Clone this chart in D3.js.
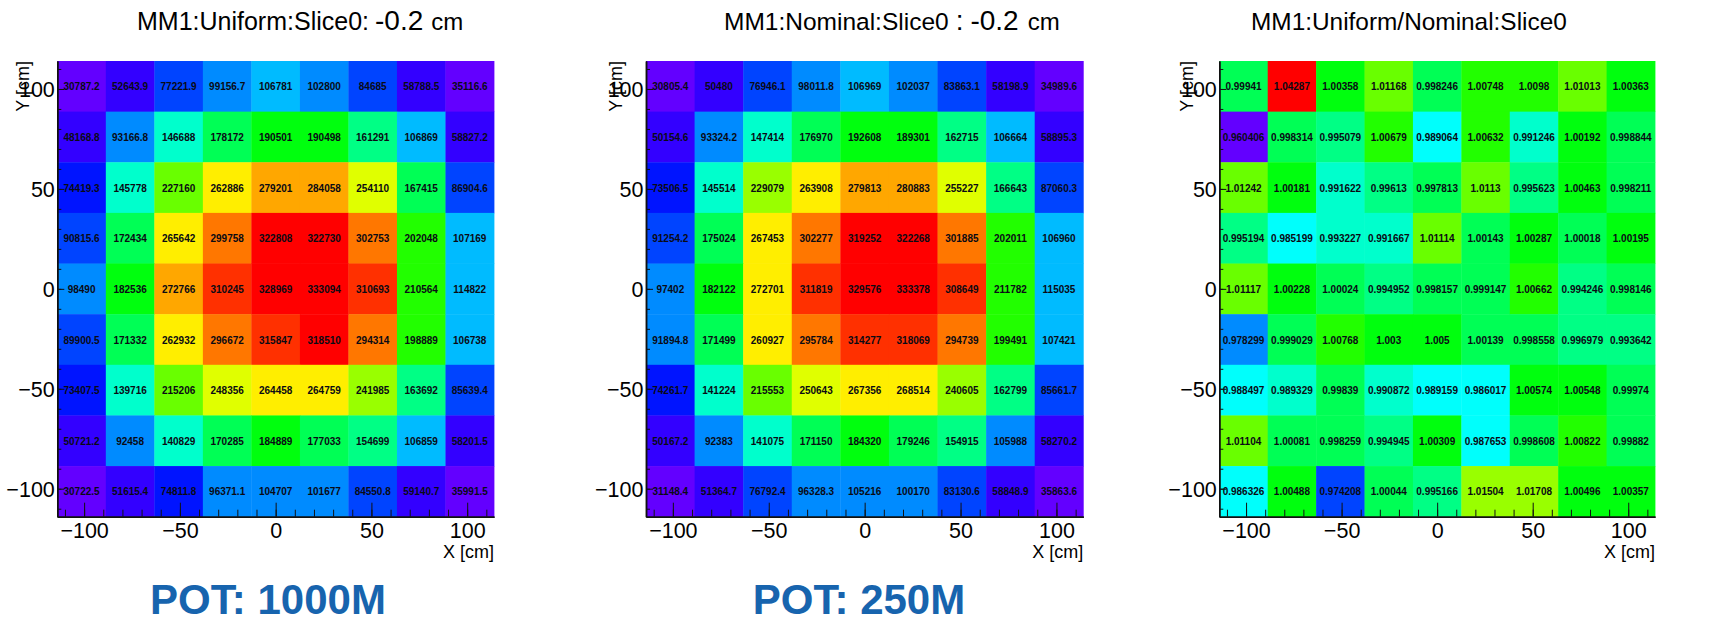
<!DOCTYPE html>
<html>
<head>
<meta charset="utf-8">
<script src="https://cdn.jsdelivr.net/npm/d3@7"></script>
<style>
  body { margin: 0; background: #fff; }
  svg { display: block; }
  text { font-family: "Liberation Sans", Arial, Helvetica, sans-serif; }
</style>
</head>
<body>
<svg id="chart" width="1713" height="624"></svg>
<script>
// 9 x 9 binning of the MM1 plane (cm), same for X and Y
const binEdges = [-114, -88.667, -63.333, -38, -12.667, 12.667, 38, 63.333, 88.667, 114];
const majorTicks = [-100, -50, 0, 50, 100];
const minorTicks = [-110, -100, -90, -80, -70, -60, -50, -40, -30, -20, -10, 0, 10, 20, 30, 40, 50, 60, 70, 80, 90, 100, 110];

// rows listed from the top (Y ≈ +100) to the bottom (Y ≈ -100), columns from X ≈ -100 to +100
const uniformCounts = [
  [30787.2, 52643.9, 77221.9, 99156.7, 106781, 102800, 84685, 58788.5, 35116.6],
  [48168.8, 93166.8, 146688, 178172, 190501, 190498, 161291, 106869, 58827.2],
  [74419.3, 145778, 227160, 262886, 279201, 284058, 254110, 167415, 86904.6],
  [90815.6, 172434, 265642, 299758, 322808, 322730, 302753, 202048, 107169],
  [98490, 182536, 272766, 310245, 328969, 333094, 310693, 210564, 114822],
  [89900.5, 171332, 262932, 296672, 315847, 318510, 294314, 198889, 106738],
  [73407.5, 139716, 215206, 248356, 264458, 264759, 241985, 163692, 85639.4],
  [50721.2, 92458, 140829, 170285, 184889, 177033, 154699, 106859, 58201.5],
  [30722.5, 51615.4, 74811.8, 96371.1, 104707, 101677, 84550.8, 59140.7, 35991.5]
];

const nominalCounts = [
  [30805.4, 50480, 76946.1, 98011.8, 106969, 102037, 83863.1, 58198.9, 34989.6],
  [50154.6, 93324.2, 147414, 176970, 192608, 189301, 162715, 106664, 58895.3],
  [73506.5, 145514, 229079, 263908, 279813, 280883, 255227, 166643, 87060.3],
  [91254.2, 175024, 267453, 302277, 319252, 322268, 301885, 202011, 106960],
  [97402, 182122, 272701, 311819, 329576, 333378, 308649, 211782, 115035],
  [91894.8, 171499, 260927, 295784, 314277, 318069, 294739, 199491, 107421],
  [74261.7, 141224, 215553, 250643, 267356, 268514, 240605, 162799, 85661.7],
  [50167.2, 92383, 141075, 171150, 184320, 179246, 154915, 105988, 58270.2],
  [31148.4, 51364.7, 76792.4, 96328.3, 105216, 100170, 83130.6, 58848.9, 35863.6]
];

const ratioValues = [
  [0.99941, 1.04287, 1.00358, 1.01168, 0.998246, 1.00748, 1.0098, 1.01013, 1.00363],
  [0.960406, 0.998314, 0.995079, 1.00679, 0.989064, 1.00632, 0.991246, 1.00192, 0.998844],
  [1.01242, 1.00181, 0.991622, 0.99613, 0.997813, 1.0113, 0.995623, 1.00463, 0.998211],
  [0.995194, 0.985199, 0.993227, 0.991667, 1.01114, 1.00143, 1.00287, 1.00018, 1.00195],
  [1.01117, 1.00228, 1.00024, 0.994952, 0.998157, 0.999147, 1.00662, 0.994246, 0.998146],
  [0.978299, 0.999029, 1.00768, 1.003, 1.005, 1.00139, 0.998558, 0.996979, 0.993642],
  [0.988497, 0.989329, 0.99839, 0.990872, 0.989159, 0.986017, 1.00574, 1.00548, 0.99974],
  [1.01104, 1.00081, 0.998259, 0.994945, 1.00309, 0.987653, 0.998608, 1.00822, 0.99882],
  [0.986326, 1.00488, 0.974208, 1.00044, 0.995166, 1.01504, 1.01708, 1.00496, 1.00357]
];

const titleParts = [
  [{t: "MM1:Uniform:Slice0:", s: 25, dx: 0}, {t: "-0.2", s: 28, dx: 6}, {t: "cm", s: 24, dx: 8}],
  [{t: "MM1:Nominal:Slice0", s: 24.5, dx: 0}, {t: ":", s: 28, dx: 7}, {t: "-0.2", s: 28, dx: 7}, {t: "cm", s: 24, dx: 9}],
  [{t: "MM1:Uniform/Nominal:Slice0", s: 24.4, dx: 0}]
];
const potLabels = ["POT: 1000M", "POT: 250M", null];
const xTitle = "X [cm]";
const yTitle = "Y [cm]";

// panel frames and title anchors
const panels = [
  {values: uniformCounts, x0: 57.3, x1: 494, titleX: 137, potX: 268, yTitleOff: 28},
  {values: nominalCounts, x0: 646, x1: 1083.3, titleX: 724, potX: 859, yTitleOff: 24},
  {values: ratioValues, x0: 1219.3, x1: 1655, titleX: 1251, potX: null, yTitleOff: 26}
];
const frameTop = 61, frameBottom = 516.7;

// violet -> red "pretty" palette (50 colours, HLS with L=0.5, S=1) sampled on 20 contour levels
const nColors = 50, nLevels = 20;
const palette = d3.range(nColors).map(i => d3.hsl(280 - (i + 1) * 280 / nColors, 1, 0.5).formatHex());
const levelColors = d3.range(nLevels).map(c => palette[Math.min(nColors - 1, Math.floor((c + 0.99) * nColors / nLevels))]);

const fmt = d3.format(".6~g");
const svg = d3.select("#chart");

panels.forEach((p, k) => {
  const g = svg.append("g");
  const x = d3.scaleLinear().domain([binEdges[0], binEdges[binEdges.length - 1]]).range([p.x0, p.x1]);
  const y = d3.scaleLinear().domain([binEdges[0], binEdges[binEdges.length - 1]]).range([frameBottom, frameTop]);
  const flat = p.values.flat();
  const color = d3.scaleQuantize().domain(d3.extent(flat)).range(levelColors);

  const cells = [];
  p.values.forEach((row, r) => row.forEach((v, c) => {
    const yi = binEdges.length - 2 - r;
    cells.push({v, xa: binEdges[c], xb: binEdges[c + 1], ya: binEdges[yi], yb: binEdges[yi + 1]});
  }));

  g.selectAll("rect.cell").data(cells).join("rect")
    .attr("class", "cell")
    .attr("x", d => x(d.xa))
    .attr("y", d => y(d.yb))
    .attr("width", d => x(d.xb) - x(d.xa) + 0.4)
    .attr("height", d => y(d.ya) - y(d.yb) + 0.4)
    .attr("fill", d => color(d.v));

  g.selectAll("text.val").data(cells).join("text")
    .attr("class", "val")
    .attr("transform", d => `translate(${(x(d.xa) + x(d.xb)) / 2},${(y(d.ya) + y(d.yb)) / 2}) scale(1,1.12)`)
    .attr("text-anchor", "middle")
    .attr("dy", "0.36em")
    .attr("font-size", 10)
    .attr("font-weight", "bold")
    .attr("fill", "#0a0a14")
    .text(d => fmt(d.v));

  // X axis: minor then major ticks, drawn inside the frame
  const xMinor = g.append("g").attr("transform", `translate(0,${frameBottom})`)
    .call(d3.axisBottom(x).tickValues(minorTicks).tickSize(-7).tickSizeOuter(0).tickFormat(""));
  const xMajor = g.append("g").attr("transform", `translate(0,${frameBottom})`)
    .call(d3.axisBottom(x).tickValues(majorTicks).tickSize(-14).tickSizeOuter(0).tickPadding(6));
  xMajor.selectAll("text").attr("font-size", 21.5).attr("fill", "#000").style("font-family", "Liberation Sans, Arial, sans-serif");

  // Y axis
  const yMinor = g.append("g").attr("transform", `translate(${p.x0},0)`)
    .call(d3.axisLeft(y).tickValues(minorTicks).tickSize(-4).tickSizeOuter(0).tickFormat(""));
  const yMajor = g.append("g").attr("transform", `translate(${p.x0},0)`)
    .call(d3.axisLeft(y).tickValues(majorTicks).tickSize(-7).tickSizeOuter(0).tickPadding(2.5));
  yMajor.selectAll("text").attr("font-size", 21.5).attr("fill", "#000").attr("dy", "0.36em").style("font-family", "Liberation Sans, Arial, sans-serif");

  [xMinor, xMajor, yMinor, yMajor].forEach(a => {
    a.selectAll(".tick line").attr("stroke", "#111").attr("stroke-width", 1);
    a.select(".domain").attr("stroke", "#111").attr("stroke-width", 1.5);
  });

  // axis titles
  g.append("text")
    .attr("x", p.x1).attr("y", 558)
    .attr("text-anchor", "end")
    .attr("font-size", 18)
    .attr("fill", "#000")
    .text(xTitle);
  g.append("text")
    .attr("transform", `translate(${p.x0 - p.yTitleOff},${frameTop}) rotate(-90)`)
    .attr("text-anchor", "end")
    .attr("font-size", 18)
    .attr("fill", "#000")
    .text(yTitle);

  // panel title
  const t = g.append("text").attr("x", p.titleX).attr("y", 30).attr("fill", "#000");
  titleParts[k].forEach(part => {
    t.append("tspan").attr("font-size", part.s).attr("dx", part.dx).text(part.t);
  });

  // exposure label
  if (potLabels[k]) {
    g.append("text")
      .attr("x", p.potX).attr("y", 614)
      .attr("text-anchor", "middle")
      .attr("font-size", 42)
      .attr("font-weight", "bold")
      .attr("fill", "#1764ae")
      .text(potLabels[k]);
  }
});
</script>
</body>
</html>
